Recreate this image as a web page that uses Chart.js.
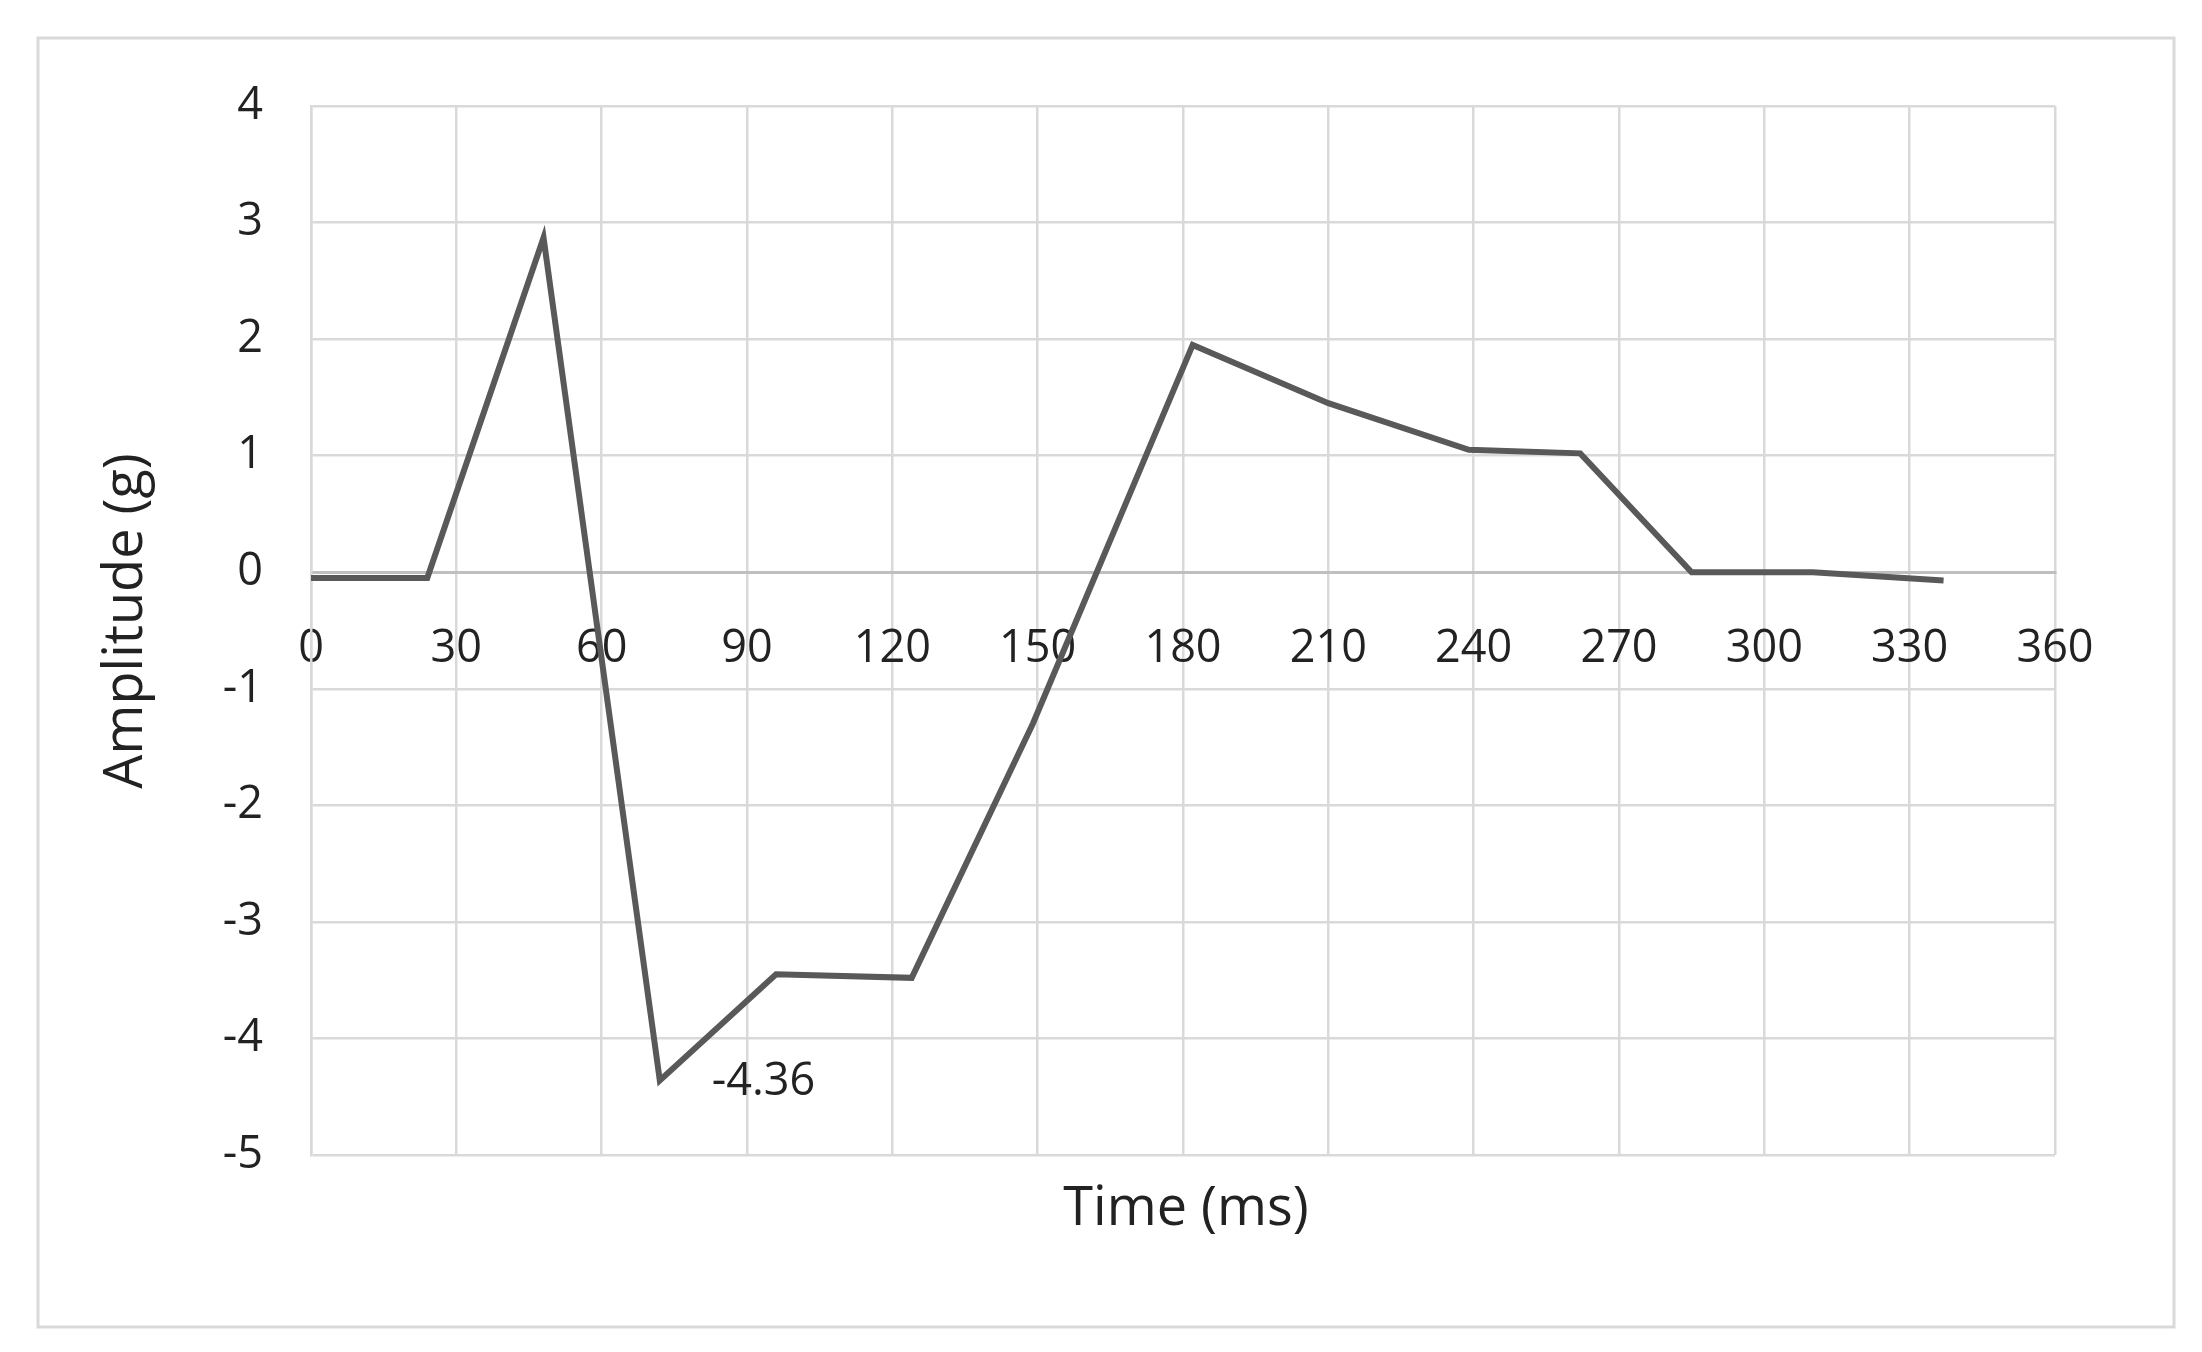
<!DOCTYPE html>
<html>
<head>
<meta charset="utf-8">
<script src="https://cdn.jsdelivr.net/npm/chart.js@4/dist/chart.umd.min.js"></script>
<style>
  html, body { margin: 0; padding: 0; background: #fff; }
  canvas { display: block; }
</style>
</head>
<body>
<canvas id="chart" width="2202" height="1352"></canvas>
<script>
// values
const timeMs = [0, 24, 48, 72, 96, 124, 149, 182, 210, 239, 262, 285, 310, 337];
const amplitude = [-0.05, -0.05, 2.87, -4.36, -3.45, -3.48, -1.3, 1.95, 1.45, 1.05, 1.02, 0, 0, -0.07];
const xTicks = [0, 30, 60, 90, 120, 150, 180, 210, 240, 270, 300, 330, 360];
const yTicks = [4, 3, 2, 1, 0, -1, -2, -3, -4, -5];
const minLabelIndex = 3;

const FONT = '"Open Sans", sans-serif';

const extras = {
  id: 'extras',
  beforeDraw(chart) {
    const c = chart.ctx;
    c.save();
    c.fillStyle = '#fff';
    c.fillRect(0, 0, chart.width, chart.height);
    c.strokeStyle = '#d9d9d9';
    c.lineWidth = 3;
    c.strokeRect(38, 38, 2136, 1289);
    c.restore();
  },
  afterDraw(chart) {
    const c = chart.ctx;
    const xs = chart.scales.x, ys = chart.scales.y;
    c.save();
    c.fillStyle = '#222';
    c.font = '54px ' + FONT;
    c.textAlign = 'center';
    c.textBaseline = 'middle';
    c.fillText('Time (ms)', 1186, 1210);
    c.translate(127, 621);
    c.rotate(-Math.PI / 2);
    c.fillText('Amplitude (g)', 0, 0);
    c.restore();

    c.save();
    c.fillStyle = '#222';
    c.font = '45px ' + FONT;
    c.textAlign = 'left';
    c.textBaseline = 'middle';
    const px = xs.getPixelForValue(timeMs[minLabelIndex]);
    const py = ys.getPixelForValue(amplitude[minLabelIndex]);
    c.fillText(amplitude[minLabelIndex].toFixed(2), px + 52, py + 2);
    c.restore();
  }
};

new Chart(document.getElementById('chart'), {
  type: 'line',
  data: {
    datasets: [{
      data: timeMs.map((t, i) => ({ x: t, y: amplitude[i] })),
      borderColor: '#595959',
      borderWidth: 6,
      pointRadius: 0,
      tension: 0,
      fill: false
    }]
  },
  options: {
    responsive: false,
    devicePixelRatio: 1,
    animation: false,
    layout: { padding: { left: 38, right: 147, top: 106, bottom: 197 } },
    plugins: { legend: { display: false }, tooltip: { enabled: false } },
    scales: {
      x: {
        type: 'linear',
        position: { y: 0 },
        min: 0, max: 360,
        afterBuildTicks: s => { s.ticks = xTicks.map(v => ({ value: v })); },
        grid: { color: '#d9d9d9', lineWidth: 2.5, drawTicks: false },
        border: { color: '#bfbfbf', width: 3 },
        ticks: { color: '#222', font: { family: FONT, size: 45 }, padding: 50, maxRotation: 0 }
      },
      y: {
        min: -5, max: 4,
        afterBuildTicks: s => { s.ticks = yTicks.map(v => ({ value: v })); },
        afterFit: s => { s.width = 273; },
        grid: { color: '#d9d9d9', lineWidth: 2.5, drawTicks: false },
        border: { color: '#d9d9d9', width: 2.5 },
        ticks: { color: '#222', font: { family: FONT, size: 45 }, padding: 48 }
      }
    }
  },
  plugins: [extras]
});
</script>
</body>
</html>
